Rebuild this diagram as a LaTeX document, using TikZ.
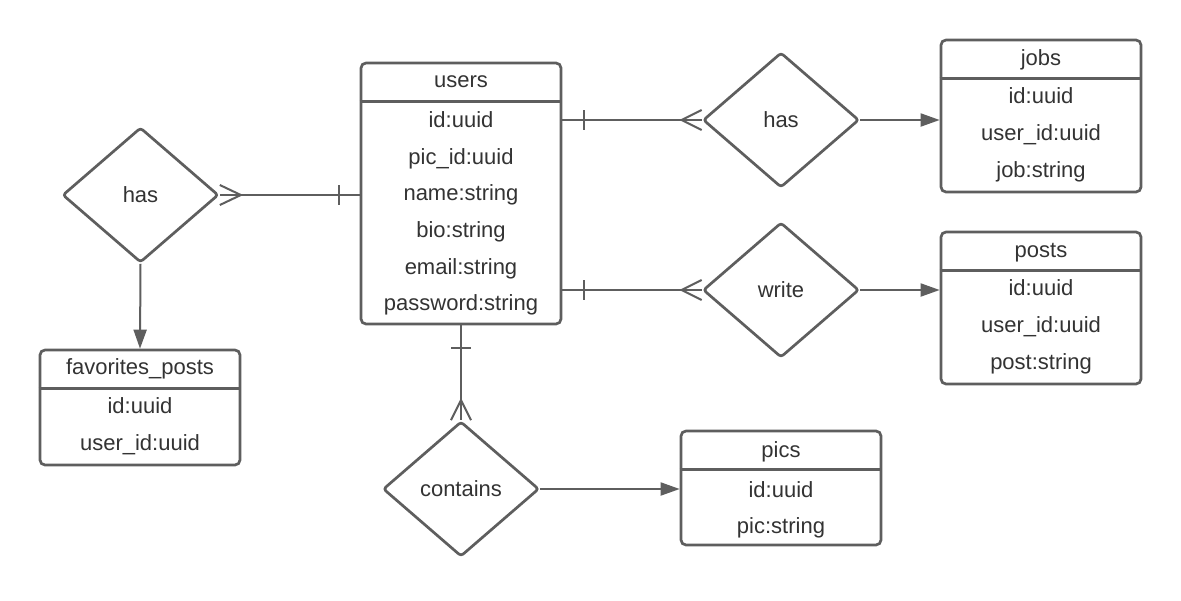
\documentclass[tikz,border=0pt]{standalone}
\usepackage{fontspec}
\setmainfont{Liberation Sans}
\usetikzlibrary{shapes.geometric,arrows.meta}
\definecolor{lc}{HTML}{5E5E5E}
\definecolor{tc}{HTML}{333333}
\newcommand{\fsz}{\fontsize{22}{26}\selectfont}
\begin{document}
\begin{tikzpicture}[x=1pt,y=-1pt,
  tbl/.style={draw=lc, line width=2.7pt, rounded corners=5pt, minimum width=200pt, inner sep=0pt, fill=white},
  hdr/.style={draw=lc, line width=2.7pt},
  txt/.style={anchor=base, text=tc, font=\fsz, inner sep=0pt},
  rel/.style={diamond, draw=lc, line width=2.7pt, minimum width=156pt, minimum height=135pt, inner sep=0pt, rounded corners=3pt, text=tc, font=\fsz, fill=white},
  con/.style={draw=lc, line width=2pt},
  arr/.style={con, -{Triangle[length=19pt,width=13pt]}}]
\useasboundingbox[fill=white] (0,0) rectangle (1181,600);

% tables
\node[tbl, minimum height=261pt] (users) at (461,193.5) {};
\node[tbl, minimum height=152pt] (jobs) at (1041,116) {};
\node[tbl, minimum height=152pt] (posts) at (1041,308) {};
\node[tbl, minimum height=115pt] (favs) at (140,407.5) {};
\node[tbl, minimum height=114pt] (pics) at (781,488) {};

\foreach \t in {users,jobs,posts,favs,pics}{
  \draw[hdr] ([yshift=-40pt]\t.north west) -- ([yshift=-40pt]\t.north east);
}

% users text
\node[txt] (uT) at (461,87) {users};
\node[txt] (u1) at (461,127) {id:uuid};
\node[txt] (u2) at (461,164) {pic\_id:uuid};
\node[txt] (u3) at (461,200.5) {name:string};
\node[txt] (u4) at (461,237) {bio:string};
\node[txt] (u5) at (461,274) {email:string};
\node[txt] (u6) at (461,310.5) {password:string};

% jobs text
\node[txt] (jT) at (1041,65) {jobs};
\node[txt] (j1) at (1041,103) {id:uuid};
\node[txt] (j2) at (1041,140) {user\_id:uuid};
\node[txt] (j3) at (1041,177) {job:string};

% posts text
\node[txt] (pT) at (1041,257) {posts};
\node[txt] (p1) at (1041,295) {id:uuid};
\node[txt] (p2) at (1041,332) {user\_id:uuid};
\node[txt] (p3) at (1041,369) {post:string};

% favorites text
\node[txt] (fT) at (140,374) {favorites\_posts};
\node[txt] (f1) at (140,413) {id:uuid};
\node[txt] (f2) at (140,450) {user\_id:uuid};

% pics text
\node[txt] (cT) at (781,457) {pics};
\node[txt] (c1) at (781,497) {id:uuid};
\node[txt] (c2) at (781,533.5) {pic:string};

% relationships
\node[rel] (hasL) at (140.5,195) {has};
\node[rel] (hasJ) at (781,120) {has};
\node[rel] (write) at (781,290) {write};
\node[rel] (contains) at (461,489) {contains};

% users -- has (left)
\coordinate (uL) at (users.west |- hasL.east);
\draw[con] (uL) -- (hasL.east);
\draw[con] ([xshift=-21pt,yshift=10pt]uL) -- ([xshift=-21pt,yshift=-10pt]uL);
\draw[con] ([yshift=10pt]hasL.east) -- ([xshift=21pt]hasL.east) -- ([yshift=-10pt]hasL.east);
\draw[arr] (hasL.south) -- (favs.north);

% users -- has (jobs)
\coordinate (uJ) at (users.east |- hasJ.west);
\draw[con] (uJ) -- (hasJ.west);
\draw[con] ([xshift=22pt,yshift=10pt]uJ) -- ([xshift=22pt,yshift=-10pt]uJ);
\draw[con] ([yshift=10pt]hasJ.west) -- ([xshift=-20pt]hasJ.west) -- ([yshift=-10pt]hasJ.west);
\coordinate (jL) at (jobs.west |- hasJ.east);
\draw[arr] (hasJ.east) -- (jL);

% users -- write
\coordinate (uW) at (users.east |- write.west);
\draw[con] (uW) -- (write.west);
\draw[con] ([xshift=22pt,yshift=10pt]uW) -- ([xshift=22pt,yshift=-10pt]uW);
\draw[con] ([yshift=10pt]write.west) -- ([xshift=-20pt]write.west) -- ([yshift=-10pt]write.west);
\coordinate (pL) at (posts.west |- write.east);
\draw[arr] (write.east) -- (pL);

% users -- contains
\draw[con] (users.south) -- (contains.north);
\draw[con] ([xshift=-10pt,yshift=-23pt]users.south) -- ([xshift=10pt,yshift=-23pt]users.south);
\draw[con] ([xshift=-10pt]contains.north) -- ([yshift=20pt]contains.north) -- ([xshift=10pt]contains.north);
\coordinate (cL) at (pics.west |- contains.east);
\draw[arr] (contains.east) -- (cL);
\end{tikzpicture}
\end{document}
